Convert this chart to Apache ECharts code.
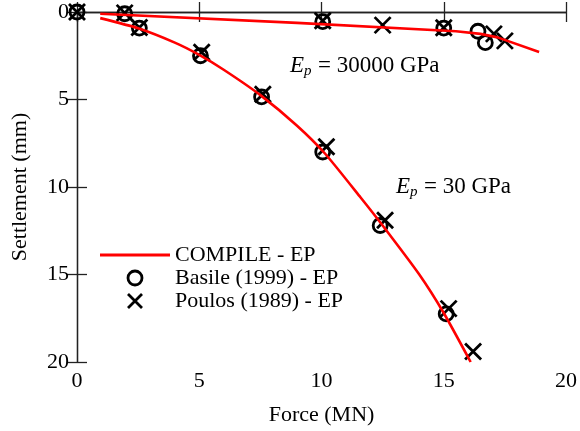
<!DOCTYPE html>
<html>
<head>
<meta charset="utf-8">
<script src="https://cdn.jsdelivr.net/npm/echarts@6/dist/echarts.min.js"></script>
<style>
  html, body { margin: 0; padding: 0; background: #fff; }
  #chart { width: 580px; height: 431px; }
</style>
</head>
<body>
<div id="chart"></div>
<script>
  // tick labels
  const forceTicks = [0, 5, 10, 15, 20];
  const settleTicks = [0, 5, 10, 15, 20];

  // COMPILE - EP curves  [force MN, settlement mm]
  const compileStiff = [[0.95, 0.1], [9.0, 0.62], [15.5, 1.1], [16.5, 1.25], [17.2, 1.45], [18.9, 2.28]];
  const compileSoft = [[0.95, 0.35], [2.5, 0.93], [4, 1.75], [5, 2.45], [6, 3.3], [7.5, 4.75], [9, 6.5],
    [10.15, 8.1], [11.6, 10.6], [12.5, 12.2], [14, 15.0], [15, 17.2], [16.1, 20]];

  // Basile (1999) - EP
  const basileSoft = [[0, 0], [1.95, 0.1], [2.55, 0.92], [5.05, 2.5], [7.55, 4.85], [10.05, 8.0], [12.4, 12.2], [15.1, 17.25]];
  const basileStiff = [[10.05, 0.55], [15.0, 0.92], [16.4, 1.1], [16.7, 1.75]];

  // Poulos (1989) - EP
  const poulosSoft = [[0, 0], [1.95, 0.05], [2.55, 0.88], [5.1, 2.3], [7.6, 4.7], [10.2, 7.7], [12.6, 11.9], [15.2, 16.95], [16.2, 19.4]];
  const poulosStiff = [[10.05, 0.5], [12.5, 0.75], [15.0, 0.9], [17.05, 1.25], [17.5, 1.65]];

  const FONT = 'Liberation Serif';
  const FS = 22;
  const axisColor = '#222';

  const chart = echarts.init(document.getElementById('chart'));

  const frameAxis = {
    min: 0, max: 20, interval: 5,
    axisLine: {show: true, lineStyle: {color: axisColor, width: 1.3}},
    axisTick: {show: true, inside: true, length: 10, lineStyle: {color: axisColor, width: 1.3}},
    splitLine: {show: false}
  };

  const cross = 'path://M0,0L10,10M10,0L0,10';
  const markStyle = {color: 'rgba(0,0,0,0)', borderColor: '#000', borderWidth: 2.8, opacity: 1};

  function label(txt) {
    return [
      {type: 'text', x: 0, y: 0, style: {text: 'E', font: 'italic 23px "Liberation Serif"', fill: '#000'}},
      {type: 'text', x: 14, y: 10, style: {text: 'p', font: 'italic 15px "Liberation Serif"', fill: '#000'}},
      {type: 'text', x: 28, y: 0, style: {text: txt, font: '23px "Liberation Serif"', fill: '#000'}}
    ];
  }

  chart.setOption({
    animation: false,
    textStyle: {fontFamily: FONT},
    grid: {left: 77, right: 10, top: 12, bottom: 64},
    legend: {
      orient: 'vertical',
      left: 95, top: 239,
      itemWidth: 70, itemHeight: 14, itemGap: 1,
      textStyle: {fontFamily: FONT, fontSize: FS, color: '#000'},
      data: [
        {name: 'COMPILE - EP', icon: 'path://M0,0L70,0L70,3L0,3Z'},
        {name: 'Basile (1999) - EP', itemStyle: markStyle},
        {name: 'Poulos (1989) - EP', itemStyle: markStyle}
      ]
    },
    xAxis: [
      Object.assign({}, frameAxis, {
        type: 'value', position: 'bottom',
        name: 'Force (MN)', nameLocation: 'middle', nameGap: 42,
        nameTextStyle: {fontFamily: FONT, fontSize: FS, color: '#000'},
        axisLabel: {
          margin: 8, fontFamily: FONT, fontSize: FS, color: '#000',
          formatter: v => forceTicks.includes(v) ? String(v) : ''
        }
      }),
      Object.assign({}, frameAxis, {type: 'value', position: 'top', axisLabel: {show: false}})
    ],
    yAxis: [
      Object.assign({}, frameAxis, {
        type: 'value', position: 'left', inverse: true,
        name: 'Settlement (mm)', nameLocation: 'middle', nameGap: 46,
        nameTextStyle: {fontFamily: FONT, fontSize: FS, color: '#000'},
        axisLabel: {
          margin: 8, fontFamily: FONT, fontSize: FS, color: '#000',
          formatter: v => settleTicks.includes(v) ? String(v) : ''
        }
      }),
      Object.assign({}, frameAxis, {type: 'value', position: 'right', inverse: true, axisLabel: {show: false}})
    ],
    graphic: [
      {type: 'group', left: 290, top: 54, children: label('= 30000 GPa')},
      {type: 'group', left: 396, top: 175, children: label('= 30 GPa')}
    ],
    series: [
      {
        name: 'Basile (1999) - EP', type: 'scatter',
        data: basileSoft.concat(basileStiff),
        symbol: 'circle', symbolSize: 14,
        itemStyle: markStyle,
        emphasis: {disabled: true}, z: 3
      },
      {
        name: 'Poulos (1989) - EP', type: 'scatter',
        data: poulosSoft.concat(poulosStiff),
        symbol: cross, symbolSize: 16,
        itemStyle: markStyle,
        emphasis: {disabled: true}, z: 3
      },
      {
        name: 'COMPILE - EP', type: 'line', data: compileStiff,
        symbol: 'none', lineStyle: {color: '#ff0000', width: 2.6},
        itemStyle: {color: '#ff0000'}, z: 4
      },
      {
        name: 'COMPILE - EP', type: 'line', data: compileSoft, smooth: 0.2,
        symbol: 'none', lineStyle: {color: '#ff0000', width: 2.6},
        itemStyle: {color: '#ff0000'}, z: 4
      }
    ]
  });
</script>
</body>
</html>
